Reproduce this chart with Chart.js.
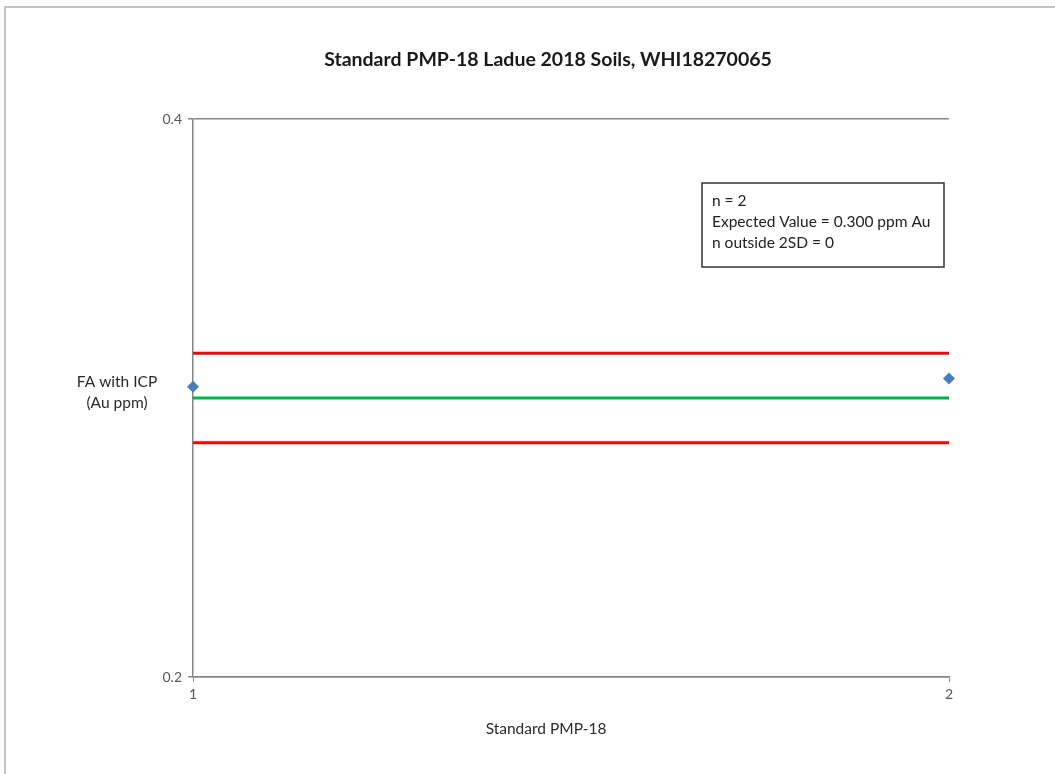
<!DOCTYPE html>
<html lang="en">
<head>
  <meta charset="UTF-8">
  <title>Standard PMP-18 Ladue 2018 Soils, WHI18270065</title>
  <script src="https://cdn.jsdelivr.net/npm/chart.js"></script>
  <style>
    body { margin: 0; background: #fff; }
    #wrap { width: 1055px; height: 774px; position: relative; }
  </style>
</head>
<body>
  <div id="wrap"><canvas id="chart" width="1055" height="774"></canvas></div>

  <script>
    // data
    const sampleNo = [1, 2];
    const auPpm = [0.304, 0.307];
    const expected = 0.300;
    const upper2SD = 0.316;
    const lower2SD = 0.284;
    const yTicks = [0.2, 0.4];
    const infoLines = ["n = 2", "Expected Value = 0.300 ppm Au", "n outside 2SD = 0"];

    const FONT = "Lato, 'Liberation Sans', sans-serif";

    function flat(v) {
      return sampleNo.map(x => ({ x: x, y: v }));
    }

    // titles, frame and the info box
    const extras = {
      id: 'extras',
      afterDraw(chart) {
        const ctx = chart.ctx;
        ctx.save();
        // outer frame (left + top only visible)
        ctx.strokeStyle = '#c4c4c4';
        ctx.lineWidth = 2;
        ctx.beginPath();
        ctx.moveTo(5, 774);
        ctx.lineTo(5, 7);
        ctx.lineTo(1055, 7);
        ctx.stroke();

        ctx.fillStyle = '#1a1a1a';
        ctx.textAlign = 'center';
        ctx.textBaseline = 'middle';
        ctx.font = 'bold 19.5px ' + FONT;
        ctx.fillText('Standard PMP-18 Ladue 2018 Soils, WHI18270065', 548, 60);

        ctx.font = '15.5px ' + FONT;
        ctx.fillStyle = '#2a2a2a';
        ctx.fillText('FA with ICP', 117, 382);
        ctx.fillText('(Au ppm)', 117, 403);
        ctx.fillText('Standard PMP-18', 546, 729);

        // info box
        ctx.strokeStyle = '#333';
        ctx.lineWidth = 1.5;
        ctx.fillStyle = '#fff';
        ctx.fillRect(702, 183, 242, 84);
        ctx.strokeRect(702, 183, 242, 84);
        ctx.fillStyle = '#222';
        ctx.textAlign = 'left';
        ctx.font = '15.5px ' + FONT;
        infoLines.forEach((t, i) => ctx.fillText(t, 712, 201 + i * 21));
        ctx.restore();
      }
    };

    new Chart(document.getElementById('chart'), {
      type: 'scatter',
      data: {
        datasets: [
          {
            label: 'Au ppm',
            data: sampleNo.map((x, i) => ({ x: x, y: auPpm[i] })),
            pointStyle: 'rectRot',
            pointRadius: 6,
            backgroundColor: '#4a7ebb',
            borderColor: '#4a7ebb',
            borderWidth: 0,
            showLine: false,
            clip: false,
            order: 0
          },
          {
            label: '+2SD', data: flat(upper2SD), showLine: true,
            borderColor: '#ff0000', borderWidth: 3, pointRadius: 0, order: 1
          },
          {
            label: 'Expected', data: flat(expected), showLine: true,
            borderColor: '#00b050', borderWidth: 3, pointRadius: 0, order: 1
          },
          {
            label: '-2SD', data: flat(lower2SD), showLine: true,
            borderColor: '#ff0000', borderWidth: 3, pointRadius: 0, order: 1
          }
        ]
      },
      options: {
        responsive: false,
        animation: false,
        layout: { padding: { left: 0, right: 106, top: 119, bottom: 0 } },
        plugins: {
          legend: { display: false },
          tooltip: { enabled: false },
          title: { display: false }
        },
        scales: {
          x: {
            type: 'linear',
            min: sampleNo[0],
            max: sampleNo[sampleNo.length - 1],
            afterBuildTicks: s => { s.ticks = sampleNo.map(v => ({ value: v })); },
            afterFit: s => { s.height = 97; },
            grid: { drawOnChartArea: false, color: '#868686', tickLength: 5 },
            border: { color: '#868686', width: 1.5 },
            ticks: { color: '#555', font: { family: FONT, size: 14 }, padding: 4 }
          },
          y: {
            min: yTicks[0],
            max: yTicks[yTicks.length - 1],
            afterBuildTicks: s => { s.ticks = yTicks.map(v => ({ value: v })); },
            afterFit: s => { s.width = 193; },
            grid: { color: '#868686', lineWidth: 1.5, tickLength: 5 },
            border: { color: '#868686', width: 1.5 },
            ticks: { color: '#555', font: { family: FONT, size: 14 }, padding: 6,
                     callback: v => v.toFixed(1) }
          }
        }
      },
      plugins: [extras]
    });
  </script>
</body>
</html>
